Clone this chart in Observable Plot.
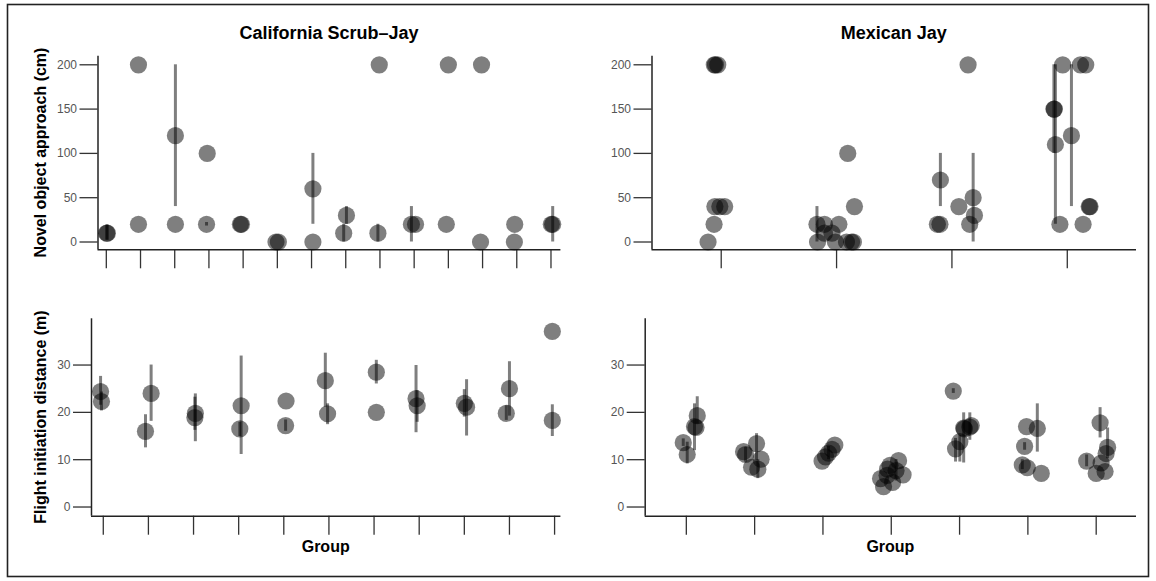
<!DOCTYPE html>
<html><head><meta charset="utf-8">
<script src="https://cdn.jsdelivr.net/npm/d3@7"></script>
<script src="https://cdn.jsdelivr.net/npm/@observablehq/plot@0.6"></script>
<style>
body{margin:0;background:#fff;}
#wrap{position:relative;width:1156px;height:581px;overflow:hidden;font-family:"Liberation Sans",Arial,Helvetica,sans-serif;background:#fff;}
#wrap svg{position:absolute;}
</style></head><body><div id="wrap"></div>
<script>
// ---------- DATA ----------
const speciesTitles = ["California Scrub\u2013Jay", "Mexican Jay"];
const yLabels = ["Novel object approach (cm)", "Flight initiation distance (m)"];
const xLabel = "Group";
const novelTicks = [0, 50, 100, 150, 200];
const fidTicks = [0, 10, 20, 30];

// California Scrub-Jay, novel object approach (cm)
const tlGroup  = [1,1,2,2,3,3,4,4,5,5,6,6,7,7,8,8,9,9,10,10,11,11,12,12,13,13,14,14];
const tlJitter = [0.03,0.01,-0.06,-0.06,0.02,0.02,-0.05,-0.07,-0.08,-0.05,-0.04,0.03,0.04,0.04,0.02,-0.06,-0.02,-0.06,-0.08,0.04,0,-0.06,-0.03,-0.06,-0.06,-0.07,0.01,0.05];
const tlValue  = [10,10,200,20,120,20,100,20,20,20,0,0,60,0,30,10,200,10,20,20,200,20,200,0,20,0,20,20];
const tlLow    = [2,2,null,null,40,null,null,18,null,null,null,null,20,null,20,0,null,0,0,null,null,null,null,null,null,null,null,0];
const tlHigh   = [19,19,null,null,200,null,null,22,null,null,null,null,100,null,40,20,null,20,40,null,null,null,null,null,null,null,null,40];

// Mexican Jay, novel object approach (cm)
const trGroup  = [1,1,1,1,1,1,1,1, 2,2,2,2,2,2,2,2,2,2,2,2, 3,3,3,3,3,3,3,3, 4,4,4,4,4,4,4,4,4,4,4];
const trJitter = [-0.06,-0.05,-0.03,-0.055,-0.012,0.03,-0.062,-0.114,
                  -0.17,-0.105,0.02,-0.105,-0.04,-0.165,-0.01,0.086,0.13,0.146,0.097,0.155,
                  -0.10,0.14,0.184,0.06,0.195,-0.126,-0.104,0.154,
                  -0.04,0.114,0.16,-0.116,-0.112,-0.103,0.036,0.19,0.197,-0.064,0.137];
const trValue  = [200,200,200,40,40,40,20,0,
                  20,20,20,10,10,0,0,0,0,0,100,40,
                  70,200,50,40,30,20,20,20,
                  200,200,200,150,150,110,120,40,40,20,20];
const trLow    = [null,null,null,null,null,null,null,null,
                  0,null,null,null,null,null,null,null,null,null,null,null,
                  40,null,0,null,null,null,null,null,
                  null,null,null,100,null,20,40,null,null,null,null];
const trHigh   = [null,null,null,null,null,null,null,null,
                  40,null,null,null,null,null,null,null,null,null,null,null,
                  100,null,100,null,null,null,null,null,
                  null,null,null,200,null,200,200,null,null,null,null];

// California Scrub-Jay, flight initiation distance (m)
const blGroup  = [1,1,2,2,3,3,4,4,5,5,6,6,7,7,8,8,9,9,10,10,11,11];
const blJitter = [-0.06,-0.04,0.06,-0.065,0.04,0.03,0.055,0.025,0.05,0.04,-0.08,-0.03,0.05,0.05,-0.07,-0.045,0.05,0,0,-0.07,-0.05,-0.05];
const blValue  = [24.4,22.3,24.0,16.0,19.8,18.9,21.4,16.5,22.4,17.2,26.7,19.7,28.5,20.0,22.9,21.4,21.1,21.9,25.0,19.8,37.1,18.3];
const blLow    = [21.5,20.3,18.1,12.5,13.8,16.2,11.1,14.9,null,16.0,21.1,17.4,26.0,null,15.7,17.9,15.0,19.0,19.2,18.3,null,14.9];
const blHigh   = [27.6,24.3,30.0,19.5,23.9,23.2,31.9,17.9,null,18.4,32.5,21.8,31.0,null,29.9,24.6,26.9,24.8,30.7,21.4,null,21.6];

// Mexican Jay, flight initiation distance (m)
const brGroup  = [1,1,1,1,1, 2,2,2,2,2,2, 3,3,3,3,3, 4,4,4,4,4,4,4,4,4, 5,5,5,5,5,5,5, 6,6,6,6,6,6, 7,7,7,7,7,7,7];
const brJitter = [-0.045,0.013,0.12,0.142,0.16,
                  -0.162,-0.133,0.028,0.094,-0.045,0.047,
                  -0.013,0.038,0.082,0.133,0.174,
                  -0.157,-0.113,-0.061,-0.054,-0.018,0.019,0.07,0.107,0.173,
                  -0.092,-0.059,0.004,0.06,0.07,0.15,0.171,
                  -0.02,0.138,-0.048,-0.082,-0.009,0.196,
                  -0.14,0.057,0.167,0.145,0.072,0.0,0.13];
const brValue  = [13.6,11.1,17.0,16.8,19.3,
                  11.7,11.1,13.4,10.1,8.4,8.0,
                  9.7,10.6,11.4,12.2,13.1,
                  6.0,4.3,6.7,8.0,8.8,5.2,7.7,9.8,6.8,
                  24.5,12.3,13.8,16.7,16.5,16.9,17.2,
                  17.0,16.6,12.8,8.9,8.3,7.1,
                  9.7,17.8,12.6,11.3,9.3,7.1,7.5];
const brLow    = [12.8,9.1,11.9,null,17.5,
                  null,9.5,9.8,null,null,6.0,
                  null,null,10.0,null,null,
                  null,null,null,null,null,null,5.5,null,null,
                  24.0,9.5,9.5,9.3,null,14.1,null,
                  null,11.6,12.0,7.9,null,null,
                  8.5,14.6,10.2,null,null,null,null];
const brHigh   = [14.4,13.7,21.8,null,23.3,
                  null,12.6,15.5,null,null,10.0,
                  null,null,12.8,null,null,
                  null,null,null,null,null,null,10.0,null,null,
                  25.0,14.5,15.1,19.9,null,19.9,null,
                  null,21.8,13.6,10.0,null,null,
                  11.0,21.0,16.7,null,null,null,null];

// ---------- DRAW ----------
const FONT = '"Liberation Sans", Arial, Helvetica, sans-serif';
const wrap = document.getElementById("wrap");

function rows(g, j, v, lo, hi) {
  return g.map((gi, i) => ({x: gi + j[i], v: v[i], lo: lo[i], hi: hi[i]}));
}

function panel(cfg) {
  const data = rows(cfg.g, cfg.j, cfg.v, cfg.lo, cfg.hi);
  const nGroups = d3.max(cfg.g);
  const svg = Plot.plot({
    width: cfg.width, height: cfg.height,
    marginLeft: cfg.ml, marginRight: cfg.mr, marginTop: cfg.mt, marginBottom: cfg.mb,
    x: {type: "linear", domain: cfg.xDomain},
    y: {type: "linear", domain: cfg.yDomain},
    style: {background: "transparent", fontFamily: FONT, overflow: "visible",
            position: "absolute", left: cfg.left + "px", top: cfg.top + "px"},
    marks: [
      Plot.axisY(cfg.yTicks, {tickSize: 18, tickPadding: 3, fontSize: 12, fill: "#555", stroke: "#333", strokeWidth: 1.3, label: null}),
      Plot.axisX(d3.range(1, nGroups + 1), {tickSize: 19, tickFormat: () => "", stroke: "#333", strokeWidth: 1.3, label: null}),
      Plot.ruleX([cfg.xDomain[0]], {stroke: "#222", strokeWidth: 1.5}),
      Plot.ruleY([cfg.yDomain[0]], {stroke: "#222", strokeWidth: 1.5}),
      Plot.ruleX(data.filter(d => d.lo != null), {x: "x", y1: "lo", y2: "hi", stroke: "black", strokeOpacity: 0.5, strokeWidth: 3}),
      Plot.dot(data, {x: "x", y: "v", r: 8.6, fill: "black", fillOpacity: 0.5, stroke: "none"})
    ]
  });
  wrap.appendChild(svg);
}

const novelDomain = [-8.8, 209.7];
const fidDomain = [-1.94, 39.77];

panel({g: tlGroup, j: tlJitter, v: tlValue, lo: tlLow, hi: tlHigh,
  left: 0, top: 0, width: 578, height: 290, ml: 97.5, mr: 17.6, mt: 55.7, mb: 40.7,
  xDomain: [0.757, 14.29], yDomain: novelDomain, yTicks: novelTicks});
panel({g: trGroup, j: trJitter, v: trValue, lo: trLow, hi: trHigh,
  left: 578, top: 0, width: 578, height: 290, ml: 73.5, mr: 20, mt: 55.7, mb: 40.7,
  xDomain: [0.40, 4.60], yDomain: novelDomain, yTicks: novelTicks});
panel({g: blGroup, j: blJitter, v: blValue, lo: blLow, hi: blHigh,
  left: 0, top: 290, width: 578, height: 291, ml: 91, mr: 17.6, mt: 28.3, mb: 65.3,
  xDomain: [0.739, 11.14], yDomain: fidDomain, yTicks: fidTicks});
panel({g: brGroup, j: brJitter, v: brValue, lo: brLow, hi: brHigh,
  left: 578, top: 290, width: 578, height: 291, ml: 66.7, mr: 20, mt: 28.3, mb: 65.3,
  xDomain: [0.398, 7.59], yDomain: fidDomain, yTicks: fidTicks});

// ---------- TEXT OVERLAY + FRAME ----------
const ov = d3.select(wrap).append("svg")
  .attr("width", 1156).attr("height", 581)
  .style("left", "0px").style("top", "0px").style("pointer-events", "none")
  .style("font-family", FONT);

ov.append("rect").attr("x", 7.5).attr("y", 4.5).attr("width", 1141).attr("height", 572)
  .attr("fill", "none").attr("stroke", "#222").attr("stroke-width", 1.6);

const titles = [[329, 38.5, speciesTitles[0]], [893.7, 38.5, speciesTitles[1]]];
titles.forEach(([x, y, t]) => ov.append("text").attr("x", x).attr("y", y)
  .attr("text-anchor", "middle").attr("font-size", 18).attr("font-weight", "bold").attr("fill", "#000").text(t));

const ylabs = [[46, 152.5, yLabels[0]], [46, 417, yLabels[1]]];
ylabs.forEach(([x, y, t]) => ov.append("text").attr("transform", `translate(${x},${y}) rotate(-90)`)
  .attr("text-anchor", "middle").attr("font-size", 16).attr("font-weight", "bold").attr("fill", "#000").text(t));

[[325.7, 552], [890.4, 552]].forEach(([x, y]) => ov.append("text").attr("x", x).attr("y", y)
  .attr("text-anchor", "middle").attr("font-size", 16).attr("font-weight", "bold").attr("fill", "#000").text(xLabel));
</script>
</body></html>
